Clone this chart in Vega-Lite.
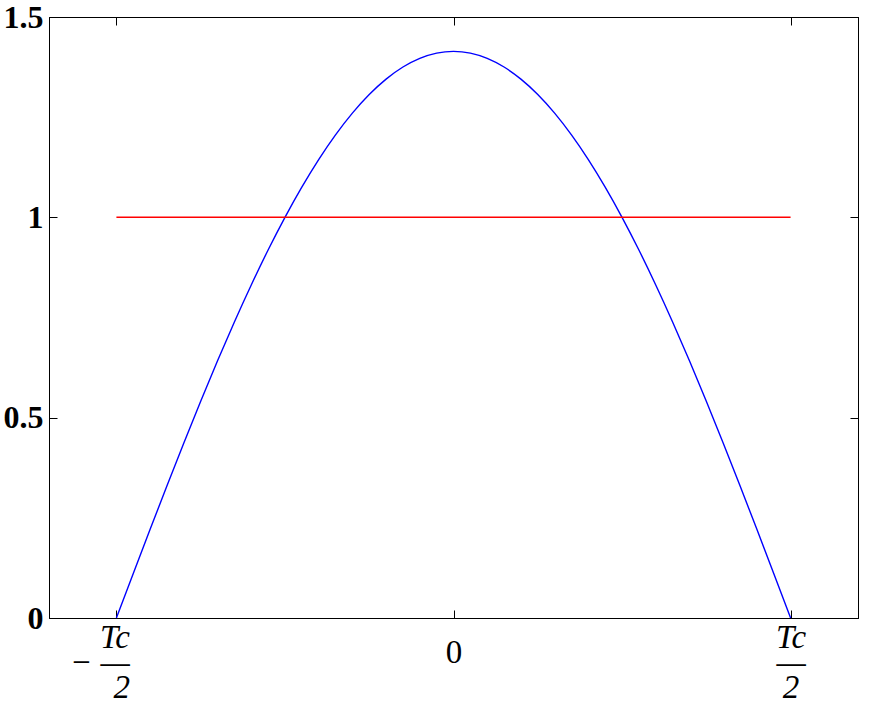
{
  "$schema": "https://vega.github.io/schema/vega-lite/v6.json",
  "width": 809,
  "height": 601,
  "autosize": {"type": "none"},
  "padding": {"left": 49, "top": 17, "right": 12, "bottom": 89},
  "background": "white",
  "config": {
    "view": {"stroke": "black", "strokeWidth": 1},
    "axis": {
      "grid": false,
      "domainColor": "black",
      "tickColor": "black",
      "labelColor": "black",
      "labelFont": "Liberation Serif",
      "title": null,
      "labelFlush": false,
      "labelOverlap": false,
      "labelBound": false
    }
  },
  "datasets": {
    "curve": [
      {"t": -1.0, "v": 0.0}, {"t": -0.95, "v": 0.11096}, {"t": -0.9, "v": 0.22123}, {"t": -0.85, "v": 0.33014},
      {"t": -0.8, "v": 0.43702}, {"t": -0.75, "v": 0.5412}, {"t": -0.7, "v": 0.64204}, {"t": -0.65, "v": 0.73893},
      {"t": -0.6, "v": 0.83125}, {"t": -0.55, "v": 0.91846}, {"t": -0.5, "v": 1.0}, {"t": -0.45, "v": 1.07538},
      {"t": -0.4, "v": 1.14412}, {"t": -0.35, "v": 1.2058}, {"t": -0.3, "v": 1.26007}, {"t": -0.25, "v": 1.30656},
      {"t": -0.2, "v": 1.345}, {"t": -0.15, "v": 1.37514}, {"t": -0.1, "v": 1.3968}, {"t": -0.05, "v": 1.40986},
      {"t": 0.0, "v": 1.41421},
      {"t": 0.05, "v": 1.40986}, {"t": 0.1, "v": 1.3968}, {"t": 0.15, "v": 1.37514}, {"t": 0.2, "v": 1.345},
      {"t": 0.25, "v": 1.30656}, {"t": 0.3, "v": 1.26007}, {"t": 0.35, "v": 1.2058}, {"t": 0.4, "v": 1.14412},
      {"t": 0.45, "v": 1.07538}, {"t": 0.5, "v": 1.0}, {"t": 0.55, "v": 0.91846}, {"t": 0.6, "v": 0.83125},
      {"t": 0.65, "v": 0.73893}, {"t": 0.7, "v": 0.64204}, {"t": 0.75, "v": 0.5412}, {"t": 0.8, "v": 0.43702},
      {"t": 0.85, "v": 0.33014}, {"t": 0.9, "v": 0.22123}, {"t": 0.95, "v": 0.11096}, {"t": 1.0, "v": 0.0}
    ],
    "level": [
      {"t": -1.0, "v": 1.0},
      {"t": 1.0, "v": 1.0}
    ]
  },
  "layer": [
    {
      "data": {"name": "curve"},
      "mark": {"type": "line", "color": "#0000ff", "strokeWidth": 1.4, "interpolate": "monotone", "clip": false},
      "encoding": {
        "x": {
          "field": "t", "type": "quantitative",
          "scale": {"domain": [-1.2, 1.2], "nice": false, "zero": false},
          "axis": {
            "orient": "bottom",
            "values": [-1, 0, 1],
            "tickSize": -8,
            "labelPadding": {"condition": {"test": "datum.value == 0", "value": 42}, "value": 27},
            "labelOffset": {"condition": {"test": "datum.value < 0", "value": 13}, "value": 0},
            "labelAlign": {"condition": {"test": "datum.value < 0", "value": "right"}, "value": "center"},
            "labelFontSize": 33,
            "labelBaseline": "middle",
            "labelLineHeight": 25,
            "labelFontStyle": {"condition": {"test": "datum.value == 0", "value": "normal"}, "value": "italic"},
            "labelExpr": "datum.value == 0 ? '0' : (datum.value < 0 ? ['Tc', '\u2212\u2005\u2014', '2\u2005'] : ['Tc', '\u2014', '2'])"
          }
        },
        "y": {
          "field": "v", "type": "quantitative",
          "scale": {"domain": [0, 1.5], "nice": false},
          "axis": {
            "orient": "left",
            "values": [0, 0.5, 1, 1.5],
            "tickSize": -8,
            "labelPadding": 14,
            "labelFontSize": 32,
            "labelFontWeight": "bold",
            "labelBaseline": "middle",
            "labelExpr": "datum.value == 0 ? '0' : datum.value == 1 ? '1' : format(datum.value, '.1f')"
          }
        }
      }
    },
    {
      "data": {"name": "level"},
      "mark": {"type": "line", "color": "#ff0000", "strokeWidth": 1.5},
      "encoding": {
        "x": {
          "field": "t", "type": "quantitative",
          "scale": {"domain": [-1.2, 1.2], "nice": false, "zero": false},
          "axis": {"orient": "top", "values": [-1, 0, 1], "tickSize": -8, "labels": false}
        },
        "y": {
          "field": "v", "type": "quantitative",
          "scale": {"domain": [0, 1.5], "nice": false},
          "axis": {"orient": "right", "values": [0, 0.5, 1, 1.5], "tickSize": -8, "labels": false}
        }
      }
    }
  ],
  "resolve": {"axis": {"x": "independent", "y": "independent"}}
}
